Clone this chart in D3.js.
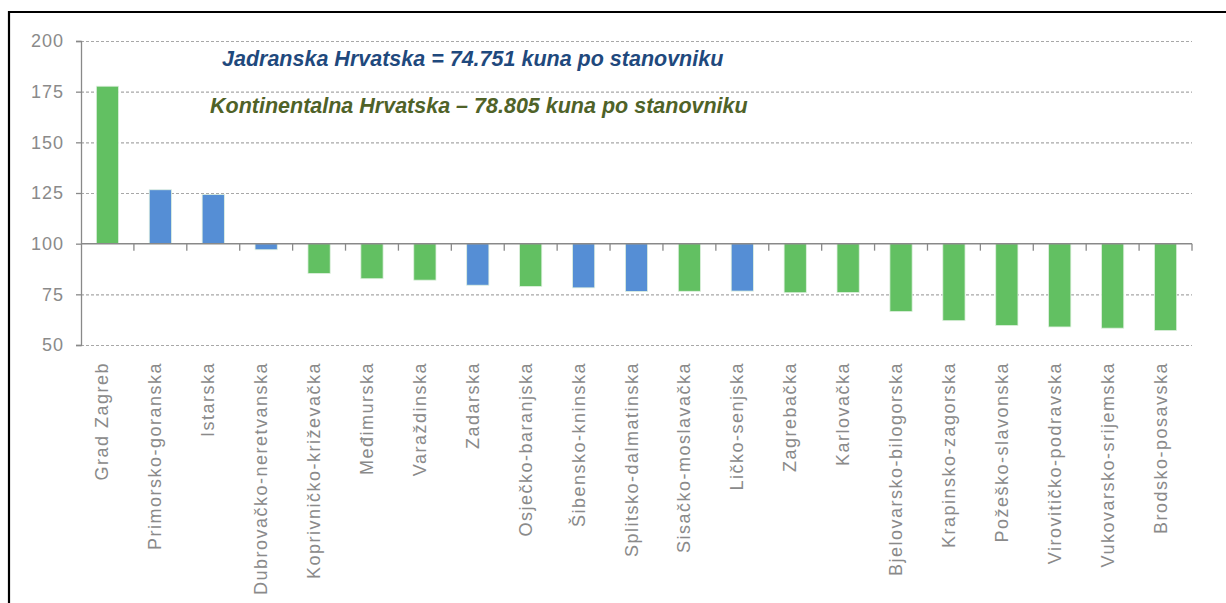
<!DOCTYPE html>
<html>
<head>
<meta charset="utf-8">
<script src="https://cdn.jsdelivr.net/npm/d3@7"></script>
<style>
  body { margin: 0; background: #fff; }
  svg { display: block; }
</style>
</head>
<body>
<div id="chart"></div>
<script>
// županije, indeks (RH = 100)
var zupanije = ["Grad Zagreb", "Primorsko-goranska", "Istarska", "Dubrovačko-neretvanska",
  "Koprivničko-križevačka", "Međimurska", "Varaždinska", "Zadarska", "Osječko-baranjska",
  "Šibensko-kninska", "Splitsko-dalmatinska", "Sisačko-moslavačka", "Ličko-senjska",
  "Zagrebačka", "Karlovačka", "Bjelovarsko-bilogorska", "Krapinsko-zagorska",
  "Požeško-slavonska", "Virovitičko-podravska", "Vukovarsko-srijemska", "Brodsko-posavska"];
var indeks = [177.7, 126.6, 124.3, 97.0, 85.3, 82.7, 82.0, 79.5, 78.9, 78.2, 76.4, 76.5,
  76.6, 75.8, 75.9, 66.5, 62.0, 59.6, 58.9, 58.3, 57.1];
// J = Jadranska, K = Kontinentalna
var regija = ["K", "J", "J", "J", "K", "K", "K", "J", "K", "J", "J", "K", "J", "K", "K",
  "K", "K", "K", "K", "K", "K"];
var yTicks = [50, 75, 100, 125, 150, 175, 200];
var napomene = ["Jadranska Hrvatska = 74.751 kuna po stanovniku",
  "Kontinentalna Hrvatska – 78.805 kuna po stanovniku"];

var W = 1226, H = 603;
var boje = { J: "#558ed5", K: "#62c062" };
var bojeTxt = { J: "#1f497d", K: "#4f6228" };
var sivo = "#898989";
var font = "Liberation Sans, Arial, sans-serif";

var svg = d3.select("#chart").append("svg")
  .attr("width", W).attr("height", H);

// okvir stranice
svg.append("line").attr("x1", 8).attr("x2", W).attr("y1", 12).attr("y2", 12)
  .attr("stroke", "#000").attr("stroke-width", 2.2);
svg.append("line").attr("x1", 9).attr("x2", 9).attr("y1", 11).attr("y2", H)
  .attr("stroke", "#000").attr("stroke-width", 2.2);

var x = d3.scaleBand().domain(zupanije).range([81, 1192]).paddingInner(0.58).paddingOuter(0.29);
var y = d3.scaleLinear().domain([50, 200]).range([345, 41]);

// mreža
svg.append("g").selectAll("line").data(yTicks.filter(d => d !== 100)).enter().append("line")
  .attr("x1", 81).attr("x2", 1192)
  .attr("y1", d => y(d) + 0.5).attr("y2", d => y(d) + 0.5)
  .attr("stroke", "#a8a8a8").attr("stroke-width", 1.2)
  .attr("stroke-dasharray", "3,2");

// stupci od 100
svg.append("g").selectAll("rect").data(indeks).enter().append("rect")
  .attr("x", (d, i) => x(zupanije[i]))
  .attr("width", x.bandwidth())
  .attr("y", d => y(Math.max(d, 100)))
  .attr("height", d => Math.abs(y(d) - y(100)))
  .attr("fill", (d, i) => boje[regija[i]])
  .attr("stroke", "#dff0df").attr("stroke-width", 0.8);

// y os
var yAxis = d3.axisLeft(y).tickValues(yTicks).tickSize(5).tickPadding(12);
var gy = svg.append("g").attr("transform", "translate(81,0)").call(yAxis);
gy.select(".domain").attr("stroke", sivo).attr("stroke-width", 1.3);
gy.selectAll(".tick line").attr("stroke", sivo).attr("stroke-width", 1.3);
gy.selectAll(".tick text").attr("fill", "#8a8a8a").attr("font-size", 18)
  .attr("letter-spacing", 1).attr("font-family", font);

// x os na 100
svg.append("line").attr("x1", 81).attr("x2", 1192)
  .attr("y1", y(100)).attr("y2", y(100))
  .attr("stroke", sivo).attr("stroke-width", 1.5);
var granice = d3.range(1, zupanije.length + 1).map(i => x.range()[0] + i * x.step());
svg.append("g").selectAll("line").data(granice).enter().append("line")
  .attr("x1", d => d).attr("x2", d => d)
  .attr("y1", y(100)).attr("y2", y(100) + 7)
  .attr("stroke", sivo).attr("stroke-width", 1.3);

// nazivi županija
svg.append("g").selectAll("text").data(zupanije).enter().append("text")
  .attr("transform", d => "translate(" + (x(d) + x.bandwidth() / 2 + 1) + ",362) rotate(-90)")
  .attr("text-anchor", "end")
  .attr("font-family", font).attr("letter-spacing", 1.5)
  .attr("font-size", 18).attr("fill", "#8a8a8a")
  .text(d => d);

// napomene
svg.append("text").attr("x", 222).attr("y", 66)
  .attr("font-family", font)
  .attr("font-size", 21.5).attr("font-weight", "bold").attr("font-style", "italic")
  .attr("fill", bojeTxt.J).text(napomene[0]);
svg.append("text").attr("x", 210).attr("y", 113)
  .attr("font-family", font)
  .attr("font-size", 21.5).attr("font-weight", "bold").attr("font-style", "italic")
  .attr("fill", bojeTxt.K).text(napomene[1]);
</script>
</body>
</html>
